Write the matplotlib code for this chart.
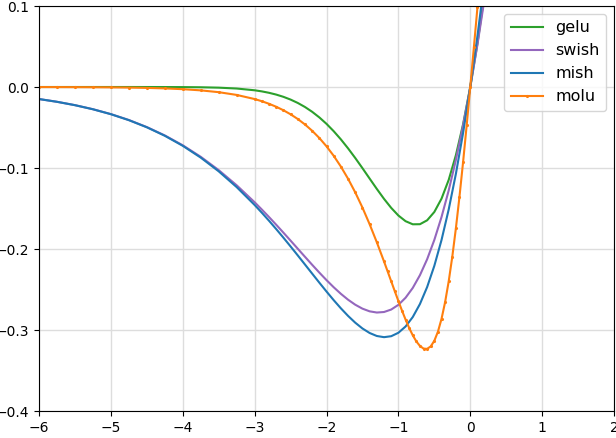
import matplotlib
matplotlib.use("Agg")
import matplotlib.pyplot as plt

# sample points
x_std = [-6, -5.75, -5.5, -5.25, -5, -4.75, -4.5, -4.25, -4, -3.75, -3.5, -3.25,
         -3.0, -2.9, -2.8, -2.7, -2.6, -2.5, -2.4, -2.3, -2.2, -2.1, -2.0,
         -1.9, -1.8, -1.7, -1.6, -1.5, -1.4, -1.3, -1.2, -1.1, -1.0, -0.9,
         -0.8, -0.7, -0.6, -0.5, -0.4, -0.3, -0.2, -0.1, 0.0, 0.1, 0.2]
gelu = [0.0, 0.0, 0.0, 0.0, -0.0000014, -0.000005, -0.0000153, -0.0000455,
        -0.000127, -0.000332, -0.000814, -0.001876,
        -0.00405, -0.005411, -0.00716, -0.009361, -0.01212, -0.015525,
        -0.01968, -0.024665, -0.03059, -0.037514, -0.04550,
        -0.054562, -0.06467, -0.075761, -0.08768, -0.100211, -0.11306,
        -0.12584, -0.13808, -0.149233, -0.15866, -0.165654,
        -0.16948, -0.169375, -0.16455, -0.154269, -0.13783, -0.114627,
        -0.08415, -0.046017, 0.0, 0.053983, 0.11585]
swish = [-0.01484, -0.018244, -0.02239, -0.027406, -0.03346, -0.040743,
         -0.04946, -0.059771, -0.07194, -0.086164, -0.10260, -0.121313,
         -0.14228, -0.151246, -0.16051, -0.170028, -0.17976, -0.189645,
         -0.19962, -0.209583, -0.21945, -0.229104, -0.23841,
         -0.247205, -0.25533, -0.262591, -0.26877, -0.273639, -0.27694,
         -0.278414, -0.27777, -0.274714, -0.26894, -0.260145,
         -0.24802, -0.232268, -0.21261, -0.18877, -0.16052, -0.127667,
         -0.09003, -0.047502, 0.0, 0.052498, 0.10997]
mish = [-0.01486, -0.018272, -0.02243, -0.027477, -0.03357, -0.040918,
        -0.04972, -0.060191, -0.07259, -0.087155, -0.10409, -0.123575,
        -0.14565, -0.155185, -0.16510, -0.17537, -0.18596, -0.196815,
        -0.20789, -0.219089, -0.23033, -0.241519, -0.25250,
        -0.263133, -0.27323, -0.282589, -0.29097, -0.2981, -0.303682,
        -0.307382, -0.308836, -0.307648, -0.303401, -0.295656,
        -0.283963, -0.26787, -0.246936, -0.220744, -0.188917, -0.151133,
        -0.107145, -0.056789, 0.0, 0.063179, 0.132599]

x_molu = [-6, -5.75, -5.5, -5.25, -5, -4.75, -4.5, -4.25, -4, -3.75, -3.5,
          -3.25, -3, -2.9, -2.8, -2.7, -2.6, -2.5, -2.4, -2.3, -2.2,
          -2.1, -2.0, -1.9, -1.8, -1.7, -1.6, -1.5, -1.4, -1.3, -1.2, -1.15,
          -1.1, -1.05, -1.0, -0.95, -0.9, -0.85, -0.8, -0.75, -0.7, -0.65,
          -0.6, -0.55, -0.5, -0.45, -0.4, -0.35, -0.3, -0.25, -0.2, -0.15,
          -0.1, -0.05, 0.0, 0.05, 0.1, 0.15, 0.2]
molu = [-0.000074, -0.0001165, -0.000184, -0.000289, -0.000454, -0.000711,
        -0.001111, -0.00173, -0.002684, -0.004148, -0.006383,
        -0.009772, -0.014873, -0.01756, -0.020708, -0.024389, -0.028686,
        -0.03369, -0.039499, -0.046239, -0.054008,
        -0.062962, -0.07323, -0.084953, -0.098267, -0.1133, -0.13015,
        -0.14887, -0.16943, -0.19171, -0.21537, -0.22755,
        -0.23985, -0.25214, -0.26425, -0.276, -0.28716, -0.29744,
        -0.30656, -0.31412, -0.31972, -0.32294, -0.32325, -0.32019,
        -0.31329, -0.30209, -0.28626, -0.26555, -0.23989, -0.2094,
        -0.17437, -0.13527, -0.09271, -0.04739, 0.0, 0.048812, 0.0985,
        0.14865, 0.19897]

fig = plt.figure(figsize=(6.16, 4.38), dpi=100)
ax = fig.add_axes([0.0633, 0.0616, 0.9335, 0.9247])

ax.plot(x_std, gelu, color="tab:green", label="gelu")
ax.plot(x_std, swish, color="tab:purple", label="swish")
ax.plot(x_std, mish, color="tab:blue", label="mish")
ax.plot(x_molu, molu, color="tab:orange", marker=".", markersize=2.5,
        label="molu")

ax.set_xlim(-6, 2)
ax.set_ylim(-0.4, 0.1)
ax.grid(True, color="#dddddd", linewidth=1)
ax.set_axisbelow(True)
ax.legend(loc="upper right", fontsize=11.5)

fig.savefig("out.png", dpi=100)
